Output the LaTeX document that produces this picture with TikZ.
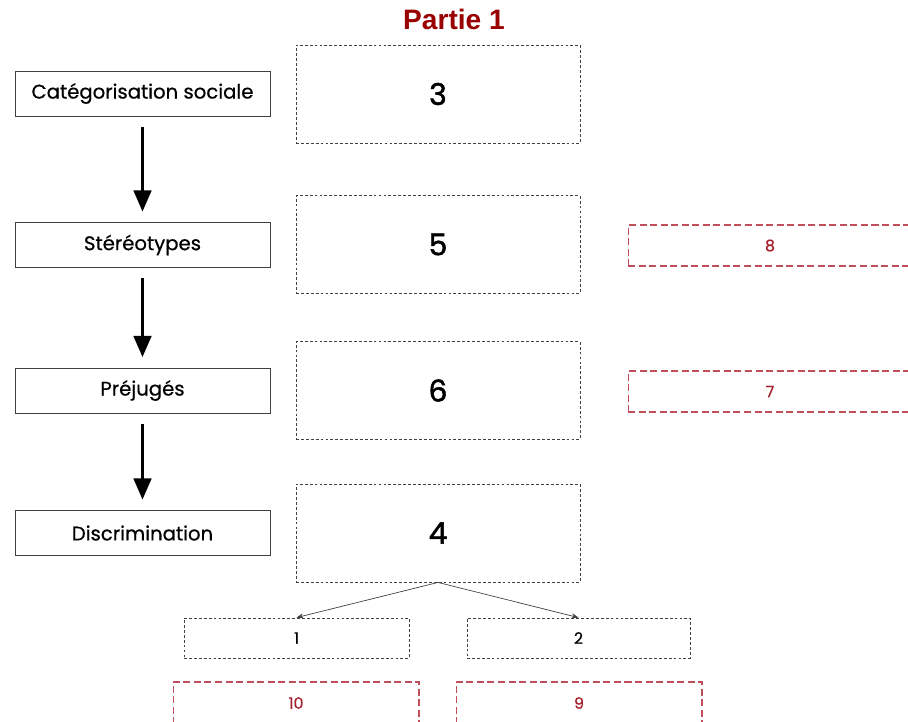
\documentclass[tikz,border=0pt]{standalone}
\usepackage{fontspec}
\setmainfont{Poppins}[FakeBold=0.6]
\newfontfamily\chiffres{Poppins}[FakeBold=1.6]
\newfontfamily\titlefont{Liberation Sans}
\usetikzlibrary{arrows.meta}
\definecolor{titlered}{HTML}{990000}
\definecolor{boxred}{HTML}{C04E5A}
\definecolor{numred}{HTML}{A3202C}
\tikzset{
    etape/.style={draw=black!75, line width=0.5pt, minimum width=5.1cm, minimum height=0.9cm, font=\fontsize{11.2}{13}\selectfont},
    cadre/.style={draw=black!75, dash pattern=on 1.6pt off 1.2pt, line width=0.5pt, minimum width=5.68cm, minimum height=1.96cm, font=\chiffres\fontsize{17}{20}\selectfont},
    petitcadre/.style={draw=black!75, dash pattern=on 1.6pt off 1.2pt, line width=0.5pt, minimum height=0.8cm, font=\fontsize{9}{11}\selectfont},
    cadrerouge/.style={draw=boxred, dash pattern=on 4pt off 2pt, line width=0.6pt, text=numred, font=\fontsize{9}{11}\selectfont},
    grosse/.style={-{Triangle[width=10pt,length=12pt]}, line width=1.7pt, shorten <=6pt, shorten >=6pt},
    fine/.style={-{Stealth[width=3pt,length=4pt]}, line width=0.4pt, draw=black!75}
}
\begin{document}
\begin{tikzpicture}[x=0.02cm, y=-0.02cm]
    \clip (0,0) rectangle (908,721);
    \useasboundingbox (0,0) rectangle (908,721);
    \node[text=titlered, font=\titlefont\bfseries\fontsize{16}{19}\selectfont] (titre) at (454,19) {Partie 1};
    % colonne de gauche
    \node[etape] (cat) at (142.5,93.5) {Catégorisation sociale};
    \node[etape] (stereo) at (142.5,245) {Stéréotypes};
    \node[etape] (prejuges) at (142.5,390.5) {Préjugés};
    \node[etape] (discri) at (142.5,533) {Discrimination};
    \draw[grosse] (cat) -- (stereo);
    \draw[grosse] (stereo) -- (prejuges);
    \draw[grosse] (prejuges) -- (discri);
    % cadres pointilles
    \node[cadre] (box3) at (438,94) {3};
    \node[cadre] (box5) at (438,244.5) {5};
    \node[cadre] (box6) at (438,390.5) {6};
    \node[cadre] (box4) at (438,533) {4};
    % cadres rouges a droite
    \node[cadrerouge, minimum width=5.68cm, minimum height=0.82cm] (red8) at (770,245.5) {8};
    \node[cadrerouge, minimum width=5.68cm, minimum height=0.82cm] (red7) at (770,391.5) {7};
    % en bas
    \node[petitcadre, minimum width=4.5cm] (box1) at (296.5,638) {1};
    \node[petitcadre, minimum width=4.46cm] (box2) at (578.5,638) {2};
    \draw[fine] (box4.south) -- (box1.north);
    \draw[fine] (box4.south) -- (box2.north);
    \node[cadrerouge, minimum width=4.92cm, minimum height=0.84cm] (red10) at (296,703) {10};
    \node[cadrerouge, minimum width=4.92cm, minimum height=0.84cm] (red9) at (579,703) {9};
\end{tikzpicture}
\end{document}
